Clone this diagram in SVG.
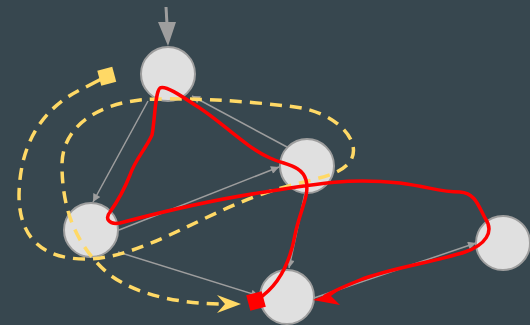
<svg xmlns="http://www.w3.org/2000/svg" width="530" height="325" viewBox="0 0 530 325">
  <style>
    .node { fill: #e0e0e0; stroke: #9e9e9e; stroke-width: 2; }
    .edge { fill: none; stroke: #9e9e9e; stroke-width: 1.5; }
    .trail { fill: none; stroke: #ffd966; stroke-width: 3.5; stroke-dasharray: 12 8; }
    .route { fill: none; stroke: #ff0000; stroke-width: 3.5; stroke-linecap: round; stroke-linejoin: round; }
  </style>
  <defs>
    <marker id="tip" viewBox="0 0 10 10" refX="10" refY="5" markerWidth="9" markerHeight="8" markerUnits="userSpaceOnUse" orient="auto">
      <path d="M0,0 L10,5 L0,10 Z" fill="#9e9e9e"/>
    </marker>
  </defs>
  <rect width="530" height="325" fill="#37474f"/>

  <!-- plain edges between nodes -->
  <g id="connectors">
    <line x1="166" y1="7" x2="167" y2="24" stroke="#9e9e9e" stroke-width="3"/>
    <polygon points="158,22 176,22 168,46" fill="#9e9e9e"/>
    <line class="edge" x1="148" y1="101" x2="93" y2="202" marker-end="url(#tip)"/>
    <line class="edge" x1="287" y1="147" x2="192" y2="96" marker-end="url(#tip)"/>
    <line class="edge" x1="119" y1="230" x2="279" y2="167" marker-end="url(#tip)"/>
    <line class="edge" x1="118" y1="252" x2="259" y2="296" marker-end="url(#tip)"/>
    <line class="edge" x1="314" y1="298" x2="476" y2="243" marker-end="url(#tip)"/>
    <line class="edge" x1="305" y1="193" x2="289" y2="268" marker-end="url(#tip)"/>
  </g>

  <g id="node-a"><circle class="node" cx="168" cy="74" r="27"/></g>
  <g id="node-b"><circle class="node" cx="307" cy="166" r="27"/></g>
  <g id="node-c"><circle class="node" cx="91" cy="230" r="27"/></g>
  <g id="node-d"><circle class="node" cx="287" cy="297" r="27"/></g>
  <g id="node-e"><circle class="node" cx="503" cy="243" r="27"/></g>

  <!-- dashed yellow trail -->
  <g id="trail">
    <line x1="107" y1="76" x2="86" y2="87" stroke="#ffd966" stroke-width="3.5"/>
    <path class="trail" stroke-dashoffset="12" d="M86,87 C50,103 20,135 19,195 C19,240 45,259 85,259 C140,259 200,215 265,193 C310,178 340,178 351,160 C362,140 335,112 295,107 C240,100 175,97 140,100 C95,105 62,128 62,165 C62,215 80,250 110,275 C140,297 185,304 226,304"/>
    <rect x="99" y="68.5" width="15.5" height="15.5" fill="#ffd966" transform="rotate(-15 106.8 76.2)"/>
    <polygon points="241,304 217,295 225,304 217,313" fill="#ffd966"/>
  </g>

  <!-- red route -->
  <g id="route">
    <path class="route" d="M258,299 C280,285 290,262 295,235 C300,210 310,195 306,180 C302,165 285,165 270,158 C245,147 220,120 195,105 C180,95 165,85 160,88 C155,92 155,120 152,135 C145,150 135,160 130,175 C122,195 115,205 110,212 C105,218 108,225 120,223 C150,215 210,200 265,192 C320,183 350,178 400,183 C430,187 440,192 460,192 C475,193 478,205 485,218 C495,232 485,245 465,252 C435,262 390,268 360,280 C340,288 332,292 325,296"/>
    <rect x="248" y="293" width="16" height="16" fill="#ff0000" transform="rotate(-15 256 301)"/>
    <polygon points="313,300 342,288 331,296 340,305" fill="#ff0000"/>
  </g>
</svg>
